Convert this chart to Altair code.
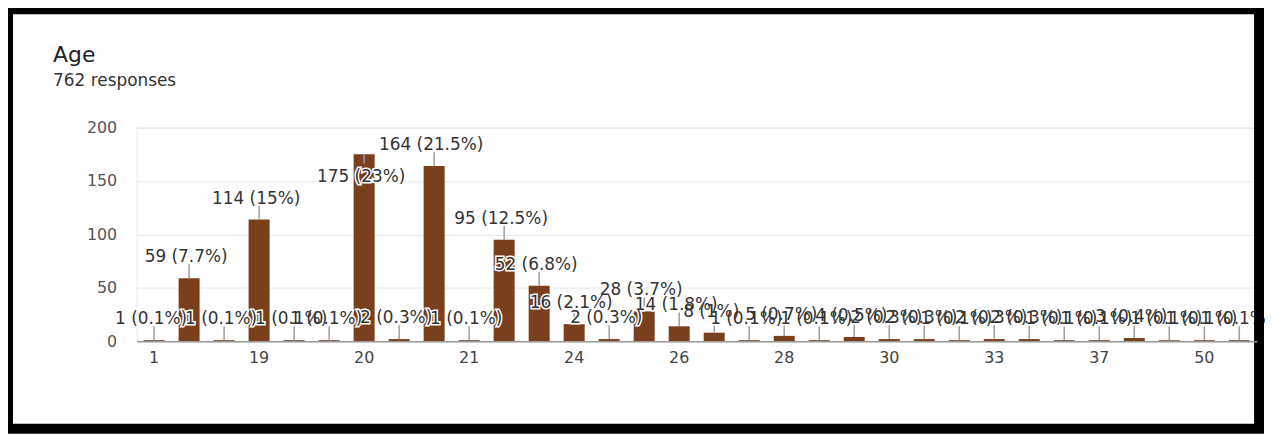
import altair as alt
import pandas as pd

# ---- data ----
chart_title = "Age"
chart_subtitle = "762 responses"
total_responses = 762
categories = ["1", "18", "18 ", "19", "19 ", "19.5", "20", "20 ", "21", "21 ",
              "22", "23", "24", "24 ", "25", "26", "27", "27 ", "28", "28 ",
              "29", "30", "31", "32", "33", "34", "35", "37", "40", "45",
              "50", "55"]
counts = [1, 59, 1, 114, 1, 1, 175, 2, 164, 1,
          95, 52, 16, 2, 28, 14, 8, 1, 5, 1,
          4, 2, 2, 1, 2, 2, 1, 1, 3, 1,
          1, 1]
tick_labels = categories[::3]          # every third category is labelled
labels_inside_bar = ["20"]             # label drawn below the bar top in the reference

df = pd.DataFrame({"category": categories, "count": counts})
df["inside"] = df["category"].isin(labels_inside_bar)

FONT = "DejaVu Sans"
BROWN = "#7a401e"
STEP = 35.23
W = STEP * len(categories)
H = 215

x_enc = alt.X(
    "category:N",
    sort=categories,
    scale=alt.Scale(paddingInner=0.4, paddingOuter=0.2),
    axis=alt.Axis(
        values=tick_labels,
        labelExpr="trim(datum.label)",
        title=None,
        labelAngle=0,
        ticks=False,
        grid=False,
        domain=True,
        domainColor="#9a9a9a",
        domainWidth=1.5,
        labelFont=FONT,
        labelFontSize=16,
        labelColor="#444444",
        labelPadding=8,
        zindex=1,
    ),
)

y_enc = alt.Y(
    "count:Q",
    scale=alt.Scale(domain=[0, 200], nice=False),
    axis=alt.Axis(
        values=list(range(0, 201, 25)),
        labelExpr="datum.value % 50 === 0 ? datum.label : ''",
        title=None,
        ticks=False,
        domain=False,
        grid=True,
        gridColor=alt.condition("datum.value % 50 === 0", alt.value("#e6e6e6"), alt.value("#f4f4f4")),
        gridWidth=1,
        labelFont=FONT,
        labelFontSize=16,
        labelColor="#555555",
        labelPadding=20,
    ),
)

base = alt.Chart(df).transform_calculate(
    label="datum.count + ' (' + format(datum.count / %d * 100, '.1~f') + '%%)'" % total_responses,
    lead_end="datum.inside ? datum.count - 8.5 : datum.count + 13",
    text_y="datum.inside ? datum.count - 21.5 : datum.count + 19.5",
)

bars = base.mark_bar(color=BROWN).encode(x=x_enc, y=y_enc)

leaders = base.mark_rule(color="#9e9e9e", strokeWidth=1.5).encode(
    x=alt.X("category:N", sort=categories),
    y="count:Q",
    y2="lead_end:Q",
)

halo = base.mark_text(
    font=FONT, fontSize=17, color="white", stroke="white", strokeWidth=3,
    baseline="middle", align="center", dx=-3,
).encode(x=alt.X("category:N", sort=categories), y="text_y:Q", text="label:N")

labels = base.mark_text(
    font=FONT, fontSize=17, color="#333333",
    baseline="middle", align="center", dx=-3,
).encode(x=alt.X("category:N", sort=categories), y="text_y:Q", text="label:N")

frame = alt.Chart(pd.DataFrame({"frame": [1]})).mark_rect(
    filled=False, stroke="black", strokeWidth=10
).encode(
    x=alt.value(-129.4), x2=alt.value(1129.6),
    y=alt.value(-119), y2=alt.value(303),
)

chart = alt.layer(bars, leaders, halo, labels, frame).properties(
    width=W,
    height=H,
    autosize=alt.AutoSizeParams(type="none"),
    padding={"left": 129.4, "top": 119, "right": 1265 - 129.4 - W, "bottom": 427 - 119 - H},
    title=alt.TitleParams(
        chart_title,
        subtitle=chart_subtitle,
        anchor="start",
        frame="group",
        dx=-84,
        offset=0,
        dy=86,
        font=FONT,
        fontSize=22,
        fontWeight="normal",
        color="#202124",
        subtitleFont=FONT,
        subtitleFontSize=17,
        subtitleColor="#333333",
        subtitlePadding=6,
    ),
    background="white",
).configure_view(stroke="#e8e8e8")

chart.save("out.html", embed_options={"renderer": "svg", "actions": False})
